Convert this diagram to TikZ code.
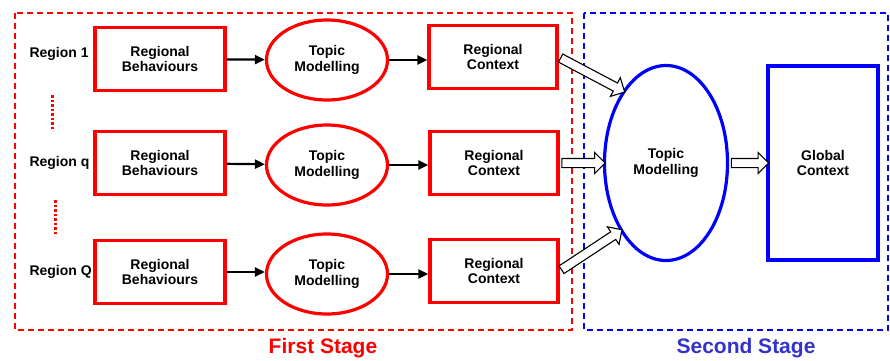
\documentclass[tikz,border=0pt]{standalone}
\usepackage{fontspec}
\setmainfont{Liberation Sans}
\usetikzlibrary{arrows.meta,shapes.arrows,shapes.geometric,calc}

\definecolor{stagered}{RGB}{255,0,0}
\definecolor{stageblue}{RGB}{0,0,255}
\definecolor{titleblue}{RGB}{51,51,204}

\tikzset{
  txt/.style={font=\bfseries\fontsize{14}{15.5}\selectfont, align=center},
  redbox/.style={txt, draw=stagered, line width=3.2pt, minimum width=128pt, minimum height=63pt},
  redell/.style={txt, draw=stagered, line width=3.2pt, ellipse, minimum width=121pt, minimum height=80pt, inner sep=0pt},
  flow/.style={line width=2.2pt, -{Triangle[length=10pt,width=9pt]}},
  fatarrow/.style={single arrow, draw=black, fill=white, line width=1.1pt, inner sep=4pt,
    single arrow head extend=6pt, single arrow head indent=0pt},
}

\newcommand{\hollowarrow}[2]{%
  \path let \p1=(#1), \p2=(#2), \n1={atan2(\y2-\y1,\x2-\x1)}, \n2={veclen(\x2-\x1,\y2-\y1)} in
    ($(#1)!0.5!(#2)$) node[fatarrow, rotate=\n1, minimum height=\n2] {};}

\begin{document}
\begin{tikzpicture}[x=1pt,y=-1pt]
  \useasboundingbox (0,0) rectangle (890,360);

  % stage frames
  \draw[stagered, dashed, line width=1.4pt, dash pattern=on 6pt off 4pt] (15,13) rectangle (572,330);
  \draw[stageblue, dashed, line width=1.4pt, dash pattern=on 6pt off 4pt] (584,13) rectangle (888,330);

  \begin{scope}[txt]
    \node[anchor=west] (reg1) at (26,54) {Region 1};
    \node[anchor=west] (regq) at (26,163) {Region q};
    \node[anchor=west] (regQ) at (26,272) {Region Q};
  \end{scope}

  \draw[stagered, line width=3pt, dash pattern=on 2.5pt off 2pt] (52,95)--(52,131);
  \draw[stagered, line width=3pt, dash pattern=on 2.5pt off 2pt] (55,200)--(55,236);

  % first stage rows
  \node[redbox, minimum width=130pt] (beh1) at (160,59) {Regional\\Behaviours};
  \node[redell] (tm1) at (327,60) {Topic\\Modelling};
  \node[redbox] (ctx1) at (493,57) {Regional\\Context};

  \node[redbox, minimum width=130pt] (beh2) at (160,163) {Regional\\Behaviours};
  \node[redell] (tm2) at (327,165) {Topic\\Modelling};
  \node[redbox] (ctx2) at (494,163) {Regional\\Context};

  \node[redbox, minimum width=130pt] (beh3) at (160,272) {Regional\\Behaviours};
  \node[redell] (tm3) at (327,274) {Topic\\Modelling};
  \node[redbox] (ctx3) at (494,271) {Regional\\Context};

  \draw[flow] (beh1) -- (tm1);
  \draw[flow] (tm1.east) -- (ctx1.west |- tm1.east);
  \draw[flow] (beh2) -- (tm2);
  \draw[flow] (tm2.east) -- (ctx2.west |- tm2.east);
  \draw[flow] (beh3.east) -- (tm3.west |- beh3.east);
  \draw[flow] (tm3.east) -- (ctx3.west |- tm3.east);

  % second stage
  \node[txt, draw=stageblue, line width=3.2pt, ellipse, minimum width=123pt, minimum height=195pt, inner sep=0pt] (tmg) at (666,163) {Topic\\Modelling};
  \node[txt, draw=stageblue, line width=3.2pt, minimum width=110pt, minimum height=194pt] (glob) at (823,163) {Global\\Context};

  \hollowarrow{ctx1.east}{tmg.121}
  \hollowarrow{ctx2.east}{tmg.west}
  \hollowarrow{ctx3.east}{tmg.236}
  \hollowarrow{tmg.east}{glob.west}

  \begin{scope}[font=\bfseries\fontsize{21}{24}\selectfont]
    \node[text=stagered] (first) at (323,348) {First Stage};
    \node[text=titleblue] (second) at (746,348) {Second Stage};
  \end{scope}
\end{tikzpicture}
\end{document}
